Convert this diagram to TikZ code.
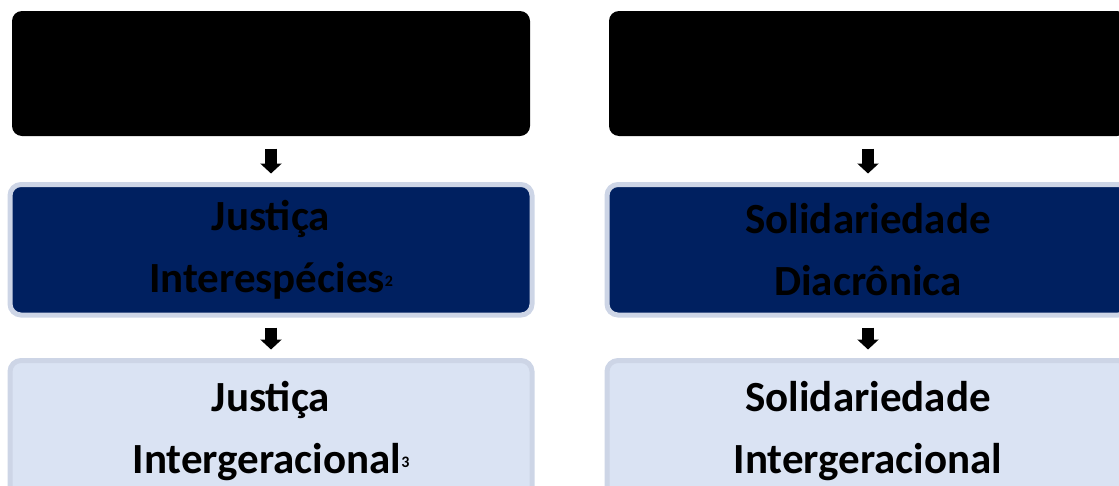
\documentclass[tikz,border=0pt]{standalone}
\usepackage{fontspec}
\setmainfont{Carlito}
\usetikzlibrary{arrows.meta,positioning}
\definecolor{navyfill}{HTML}{002060}
\definecolor{paleline}{HTML}{CDD5E6}
\definecolor{palefill}{HTML}{DAE3F3}
\newcommand{\supnote}[1]{\raisebox{0.14em}{\fontsize{16pt}{16pt}\selectfont #1}}

\begin{document}
\begin{tikzpicture}[
  x=1pt, y=1pt,
  outer sep=0pt,
  topbox/.style={fill=black, rounded corners=10pt, minimum width=518pt, minimum height=125pt},
  midbox/.style={draw=paleline, line width=5pt, fill=navyfill, rounded corners=11pt, align=center,
                 minimum width=522pt, minimum height=130.5pt, font=\fontsize{43pt}{62pt}\selectfont\bfseries},
  lowbox/.style={midbox, fill=palefill, minimum height=142pt},
  blockarrow/.style={line width=12pt, -{Triangle[width=21pt,length=10pt]}, shorten <=12.5pt, shorten >=11pt}
]
  \useasboundingbox (0,0) rectangle (1119,-485);
  \node[topbox] (lefttop) at (271,-73.5) {};
  \node[topbox, right=79pt of lefttop] (righttop) {};
  \node[midbox, below=48.5pt of lefttop] (leftmid) {Justiça\\Interespécies\supnote{2}};
  \node[midbox, below=48.5pt of righttop] (rightmid) {Solidariedade\\Diacrônica};
  \node[lowbox, below=45.5pt of leftmid] (leftlow) {Justiça\\Intergeracional\supnote{3}};
  \node[lowbox, below=45.5pt of rightmid] (rightlow) {Solidariedade\\Intergeracional};
  \draw[blockarrow] (lefttop) -- (leftmid);
  \draw[blockarrow] (leftmid) -- (leftlow);
  \draw[blockarrow] (righttop) -- (rightmid);
  \draw[blockarrow] (rightmid) -- (rightlow);
\end{tikzpicture}
\end{document}
